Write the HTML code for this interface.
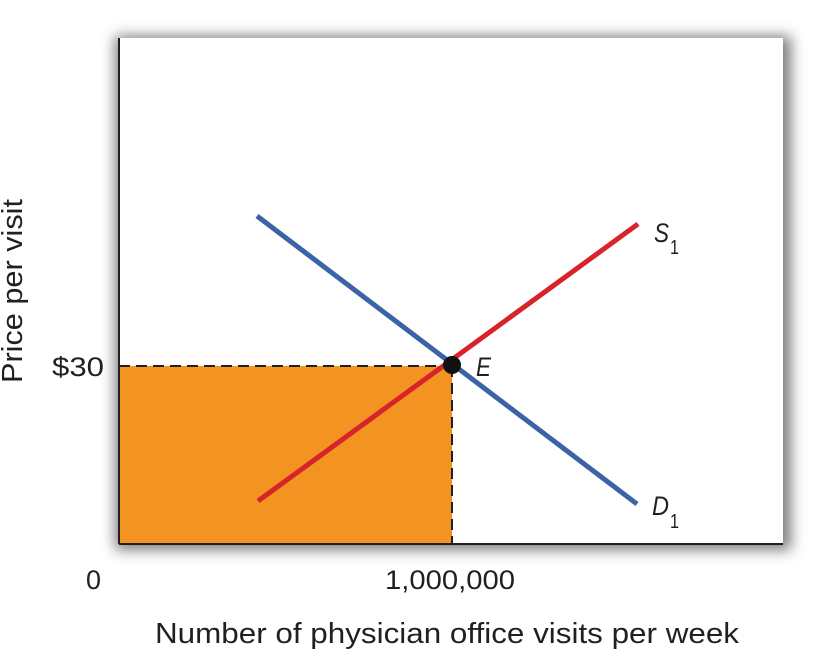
<!DOCTYPE html>
<html><head><meta charset="utf-8"><style>
body{margin:0;background:#fff;}
svg{display:block;}
text{font-family:"Liberation Sans",sans-serif;fill:#231f20;}
</style></head><body>
<svg width="826" height="654" viewBox="0 0 826 654">
<defs>
<filter id="sh" x="-10%" y="-10%" width="120%" height="120%">
<feGaussianBlur stdDeviation="7"/>
</filter>
</defs>
<rect x="115" y="36" width="676" height="514" fill="#444" opacity="0.7" filter="url(#sh)"/>
<rect x="119" y="38" width="664" height="506" fill="#fff"/>
<rect x="119" y="366" width="333" height="178" fill="#f39422"/>
<line x1="119" y1="38" x2="119" y2="544" stroke="#231f20" stroke-width="2"/>
<line x1="119" y1="544" x2="783" y2="544" stroke="#231f20" stroke-width="2"/>
<line x1="119" y1="366" x2="452" y2="366" stroke="#231f20" stroke-width="2" stroke-dasharray="11,6"/>
<line x1="452" y1="366" x2="452" y2="544" stroke="#231f20" stroke-width="2" stroke-dasharray="11,6"/>
<line x1="257" y1="216" x2="637" y2="504" stroke="#3b63a5" stroke-width="5"/>
<line x1="258" y1="501" x2="638" y2="224" stroke="#d8232a" stroke-width="5"/>
<circle cx="452" cy="365" r="9" fill="#111"/>
<text x="476" y="376" font-size="27" font-style="italic" textLength="15" lengthAdjust="spacingAndGlyphs">E</text>
<text x="654" y="242" font-size="27" font-style="italic" textLength="15" lengthAdjust="spacingAndGlyphs">S</text>
<text x="670" y="254" font-size="20" textLength="9" lengthAdjust="spacingAndGlyphs">1</text>
<text x="652" y="515" font-size="27" font-style="italic" textLength="17" lengthAdjust="spacingAndGlyphs">D</text>
<text x="670" y="528" font-size="20" textLength="9" lengthAdjust="spacingAndGlyphs">1</text>
<text x="52" y="376" font-size="27" textLength="52" lengthAdjust="spacingAndGlyphs">$30</text>
<text x="86" y="589" font-size="27" textLength="15" lengthAdjust="spacingAndGlyphs">0</text>
<text x="385" y="589" font-size="27" textLength="130" lengthAdjust="spacingAndGlyphs">1,000,000</text>
<text x="155" y="643" font-size="29" textLength="584" lengthAdjust="spacingAndGlyphs">Number of physician office visits per week</text>
<text transform="translate(22,383) rotate(-90)" font-size="29" textLength="184" lengthAdjust="spacingAndGlyphs">Price per visit</text>
</svg>
</body></html>
